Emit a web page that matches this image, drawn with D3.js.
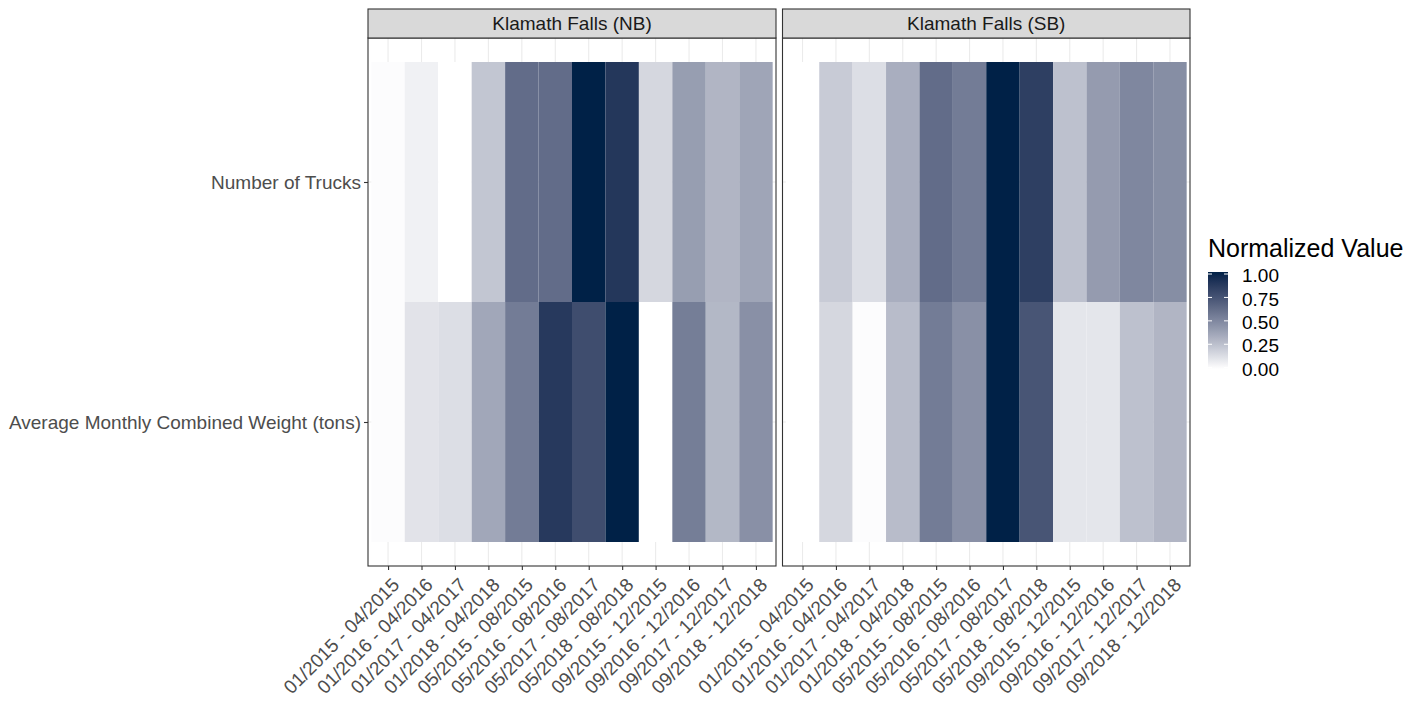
<!DOCTYPE html>
<html>
<head>
<meta charset="utf-8">
<script src="https://cdn.jsdelivr.net/npm/d3@7"></script>
<style>
  html, body { margin: 0; padding: 0; background: #ffffff; }
  svg { display: block; font-family: "Liberation Sans", Arial, sans-serif; }
</style>
</head>
<body>
<svg id="chart" width="1421" height="703"></svg>
<script>
// ---- data ----
const periods = [
  "01/2015 - 04/2015", "01/2016 - 04/2016", "01/2017 - 04/2017", "01/2018 - 04/2018",
  "05/2015 - 08/2015", "05/2016 - 08/2016", "05/2017 - 08/2017", "05/2018 - 08/2018",
  "09/2015 - 12/2015", "09/2016 - 12/2016", "09/2017 - 12/2017", "09/2018 - 12/2018"
];
const metrics = ["Number of Trucks", "Average Monthly Combined Weight (tons)"];
const locations = ["Klamath Falls (NB)", "Klamath Falls (SB)"];

const nbTrucks = [0.01, 0.055, 0.00, 0.23, 0.62, 0.62, 1.00, 0.88, 0.16, 0.40, 0.30, 0.37];
const nbWeight = [0.01, 0.11, 0.13, 0.36, 0.55, 0.87, 0.77, 1.00, 0.00, 0.54, 0.29, 0.46];
const sbTrucks = [0.00, 0.21, 0.13, 0.33, 0.62, 0.55, 1.00, 0.84, 0.25, 0.41, 0.50, 0.47];
const sbWeight = [0.00, 0.16, 0.01, 0.27, 0.55, 0.46, 1.00, 0.73, 0.10, 0.10, 0.25, 0.30];

const legendTitle = "Normalized Value";
const legendTicks = [0, 0.25, 0.5, 0.75, 1];

// ---- build table ----
const panelsData = [
  { loc: locations[0], rows: [nbTrucks, nbWeight] },
  { loc: locations[1], rows: [sbTrucks, sbWeight] }
];

const svg = d3.select("#chart");
const color = d3.scaleLinear().domain([0, 1]).range(["#ffffff", "#002147"]).interpolate(d3.interpolateLab);

const panelTop = 38, panelBottom = 566, stripTop = 9;
const panelXs = [[368, 776], [782.5, 1190]];

const y = d3.scalePoint().domain(metrics).range([panelTop, panelBottom]).padding(0.6);
const tileH = y.step();

panelsData.forEach((p, pi) => {
  const [x0, x1] = panelXs[pi];
  const x = d3.scalePoint().domain(periods).range([x0, x1]).padding(0.6);
  const tileW = x.step();
  const g = svg.append("g");

  g.append("rect").attr("x", x0).attr("y", panelTop).attr("width", x1 - x0).attr("height", panelBottom - panelTop)
    .attr("fill", "#ffffff");

  // gridlines
  g.selectAll(".vgrid").data(periods).enter().append("line")
    .attr("x1", d => x(d)).attr("x2", d => x(d))
    .attr("y1", panelTop).attr("y2", panelBottom)
    .attr("stroke", "#ebebeb").attr("stroke-width", 1.1);
  g.selectAll(".hgrid").data(metrics).enter().append("line")
    .attr("x1", x0).attr("x2", x1)
    .attr("y1", d => y(d)).attr("y2", d => y(d))
    .attr("stroke", "#ebebeb").attr("stroke-width", 1.1);

  // tiles
  const cells = [];
  metrics.forEach((m, mi) => periods.forEach((per, k) => cells.push({ m, per, v: p.rows[mi][k] })));
  g.selectAll(".tile").data(cells).enter().append("rect")
    .attr("x", d => x(d.per) - tileW / 2)
    .attr("y", d => y(d.m) - tileH / 2)
    .attr("width", tileW)
    .attr("height", tileH)
    .attr("fill", d => color(d.v));

  // panel border
  g.append("rect").attr("x", x0).attr("y", panelTop).attr("width", x1 - x0).attr("height", panelBottom - panelTop)
    .attr("fill", "none").attr("stroke", "#333333").attr("stroke-width", 1.1);

  // strip
  g.append("rect").attr("x", x0).attr("y", stripTop).attr("width", x1 - x0).attr("height", panelTop - stripTop)
    .attr("fill", "#d9d9d9").attr("stroke", "#333333").attr("stroke-width", 1.1);
  g.append("text").attr("x", (x0 + x1) / 2).attr("y", (stripTop + panelTop) / 2)
    .attr("dy", "0.35em").attr("text-anchor", "middle")
    .attr("font-size", 19).attr("fill", "#1a1a1a").text(p.loc);

  // x axis
  const xAxis = d3.axisBottom(x).tickSize(4).tickPadding(0);
  const xg = g.append("g").attr("transform", `translate(0,${panelBottom})`).call(xAxis);
  xg.select(".domain").remove();
  xg.selectAll(".tick line").attr("stroke", "#333333").attr("stroke-width", 1.1);
  xg.selectAll(".tick text")
    .attr("font-size", 19).attr("fill", "#4d4d4d")
    .attr("text-anchor", "end")
    .attr("y", 0).attr("dy", 0)
    .attr("transform", "translate(12,20) rotate(-45)");

  // y axis (left panel only)
  if (pi === 0) {
    const yAxis = d3.axisLeft(y).tickSize(4).tickPadding(3);
    const yg = g.append("g").attr("transform", `translate(${x0},0)`).call(yAxis);
    yg.select(".domain").remove();
    yg.selectAll(".tick line").attr("stroke", "#333333").attr("stroke-width", 1.1);
    yg.selectAll(".tick text").attr("font-size", 19).attr("fill", "#4d4d4d");
  }
});

// ---- legend ----
const legX = 1208, legW = 20, legTop = 272, legBottom = 369;
const ly = d3.scaleLinear().domain([0, 1]).range([367.7, 274]);
const defs = svg.append("defs");
const grad = defs.append("linearGradient").attr("id", "lg").attr("x1", "0").attr("y1", "1").attr("x2", "0").attr("y2", "0");
d3.range(0, 1.0001, 0.05).forEach(t => grad.append("stop").attr("offset", t).attr("stop-color", color(t)));
svg.append("text").attr("x", legX).attr("y", 257).attr("font-size", 25).attr("fill", "#000000").text(legendTitle);
svg.append("rect").attr("x", legX).attr("y", legTop).attr("width", legW).attr("height", legBottom - legTop)
  .attr("fill", "url(#lg)");
const lt = svg.append("g");
legendTicks.forEach(t => {
  lt.append("line").attr("x1", legX).attr("x2", legX + 4).attr("y1", ly(t)).attr("y2", ly(t)).attr("stroke", "#ffffff").attr("stroke-width", 1);
  lt.append("line").attr("x1", legX + legW - 4).attr("x2", legX + legW).attr("y1", ly(t)).attr("y2", ly(t)).attr("stroke", "#ffffff").attr("stroke-width", 1);
  lt.append("text").attr("x", legX + 34).attr("y", ly(t) + 1.5).attr("dy", "0.35em")
    .attr("font-size", 19).attr("fill", "#000000").text(d3.format(".2f")(t));
});
</script>
</body>
</html>
